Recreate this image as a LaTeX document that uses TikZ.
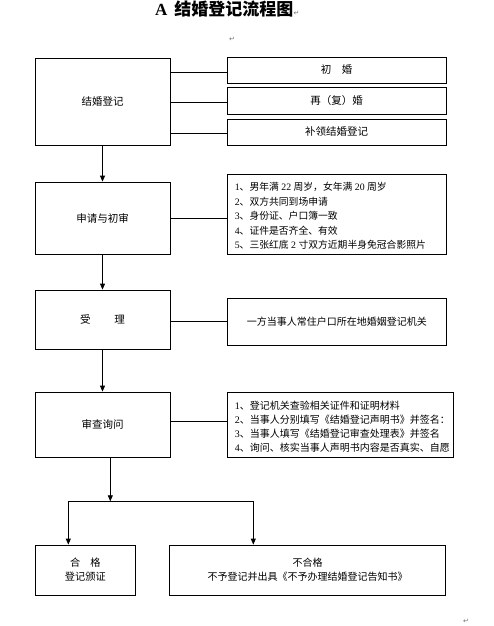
\documentclass[tikz,border=0pt]{standalone}
\usepackage{fontspec}
\usetikzlibrary{arrows.meta,calc}
\setmainfont{Liberation Serif}
\newfontfamily\cjk{Noto Sans CJK SC}
\newfontfamily\sym{DejaVu Sans}
\newcommand{\nm}[1]{{\rmfamily #1}}
\newcommand{\gapsp}{\hspace{0.25em}}
\begin{document}
\begin{tikzpicture}[x=1pt,y=-1pt,
  box/.style={draw=black,line width=0.8pt,rectangle,inner sep=0pt},
  lbl/.style={inner sep=0pt,font=\cjk\fontsize{10.5}{14}\selectfont},
  lst/.style={inner sep=0pt,anchor=west,align=left,font=\cjk\fontsize{9.8}{14.4}\selectfont},
  ln/.style={line width=0.8pt},
  arr/.style={line width=0.8pt,-{Triangle[length=6pt,width=5pt]}},
  retmark/.style={inner sep=0pt,text=black!55,font=\sym\fontsize{7}{8}\selectfont}]
\useasboundingbox (0,0) rectangle (493,626);
% title
\node[inner sep=0pt,anchor=base west] (title) at (155,16) {\fontsize{17}{20}\selectfont\bfseries A\hspace{0.4em}{\cjk\bfseries 结婚登记流程图}};
\node[retmark,anchor=base west] (m1) at (title.base east) {↵};
\node[retmark] (m2) at (232,39) {↵};
% row 1
\node[box,minimum width=135pt,minimum height=87pt] (A) at (102.5,101.5) {};
\node[lbl] (At) at (A.center) {结婚登记};
\node[box,minimum width=219pt,minimum height=26pt] (R1) at (336.5,70) {};
\node[lbl] (R1t) at (R1.center) {初\hspace{1em}婚};
\node[box,minimum width=219pt,minimum height=27pt] (R2) at (336.5,100.5) {};
\node[lbl] (R2t) at (R2.center) {再（复）婚};
\node[box,minimum width=219pt,minimum height=26pt] (R3) at (336.5,132) {};
\node[lbl] (R3t) at (R3.center) {补领结婚登记};
\draw[ln] (A.east |- 0,72) -- (R1.west |- 0,72);
\draw[ln] (A.east |- 0,102) -- (R2.west |- 0,102);
\draw[ln] (A.east |- 0,133) -- (R3.west |- 0,133);
% row 2
\node[box,minimum width=135pt,minimum height=72pt] (B) at (102.5,218) {};
\node[lbl] (Bt) at (B.center) {申请与初审};
\node[box,minimum width=219pt,minimum height=80pt] (RB) at (336.5,214) {};
\node[lst] (RBt) at ($(RB.west)+(8,2)$) {\nm{1}、男年满\gapsp\nm{22}\gapsp 周岁，女年满\gapsp\nm{20}\gapsp 周岁\\\nm{2}、双方共同到场申请\\\nm{3}、身份证、户口簿一致\\\nm{4}、证件是否齐全、有效\\\nm{5}、三张红底\gapsp\nm{2}\gapsp 寸双方近期半身免冠合影照片};
\draw[ln] (B.east) -- (B.east -| RB.west);
% row 3
\node[box,minimum width=135pt,minimum height=59pt] (C) at (102.5,319.5) {};
\node[lbl] (Ct) at (C.center) {受\hspace{24pt}理};
\node[box,minimum width=219pt,minimum height=47pt] (RC) at (336.5,321.5) {};
\node[lst,font=\cjk\fontsize{10}{14}\selectfont] (RCt) at ($(RC.west)+(20,0.5)$) {一方当事人常住户口所在地婚姻登记机关};
\draw[ln] (RC.west -| C.east) -- (RC.west);
% row 4
\node[box,minimum width=135pt,minimum height=65pt] (D) at (102.5,424.5) {};
\node[lbl] (Dt) at (D.center) {审查询问};
\node[box,minimum width=226.7pt,minimum height=65pt] (RD) at (340.3,424.5) {};
\node[lst,font=\cjk\fontsize{10}{14.1}\selectfont] (RDt) at ($(RD.west)+(8,2)$) {\nm{1}、登记机关查验相关证件和证明材料\\\nm{2}、当事人分别填写《结婚登记声明书》并签名：\\\nm{3}、当事人填写《结婚登记审查处理表》并签名\\\nm{4}、询问、核实当事人声明书内容是否真实、自愿};
\draw[ln] (D.east |- 0,421.7) -- (RD.west |- 0,421.7);
% arrows
\draw[arr] (A.south) -- (B.north);
\draw[arr] (B.south) -- (C.north);
\draw[arr] (C.south) -- (D.north);
% bottom
\node[box,minimum width=100pt,minimum height=50pt] (E) at (85.3,570) {};
\node[lbl,align=center,font=\cjk\fontsize{10.2}{14}\selectfont] (Et) at (E.center) {合\hspace{1em}格\\登记颁证};
\node[box,minimum width=276pt,minimum height=50pt] (F) at (307.7,570) {};
\node[lbl,align=center,font=\cjk\fontsize{10}{14}\selectfont] (Ft) at (F.center) {不合格\\不予登记并出具《不予办理结婚登记告知书》};
\coordinate (split) at (110.3,501.3);
\coordinate (jl) at (68.3,501.3);
\coordinate (jr) at (253.3,501.3);
\draw[arr] (D.south -| split) -- (split);
\draw[ln] (jl) -- (jr);
\draw[arr] (jl) -- (jl |- E.north);
\draw[arr] (jr) -- (jr |- F.north);
\node[retmark] (m3) at (466,621) {↵};
\end{tikzpicture}
\end{document}
